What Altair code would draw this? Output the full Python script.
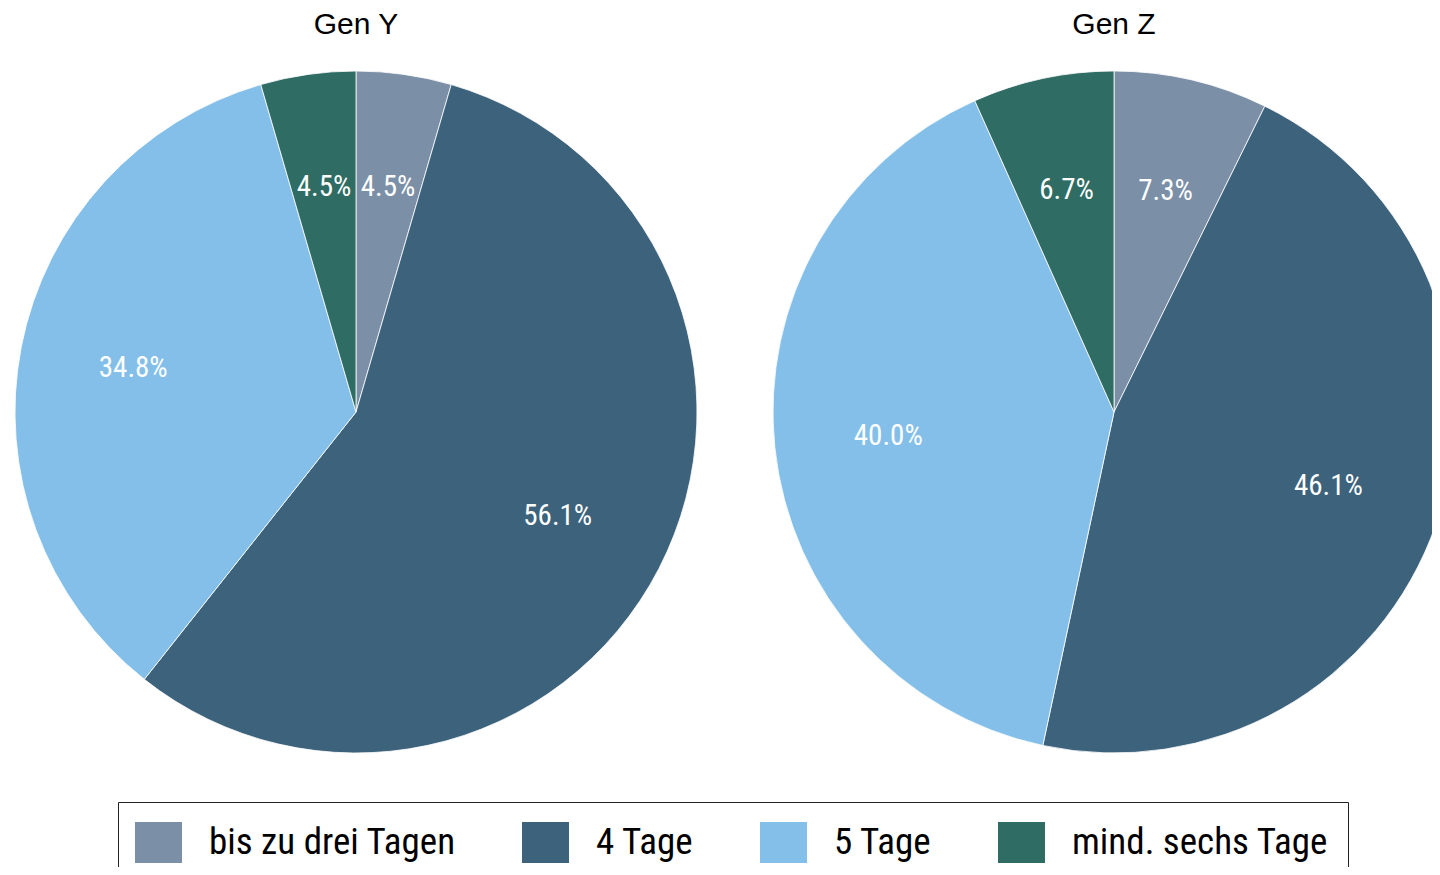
import altair as alt
import pandas as pd

categories = ["bis zu drei Tagen", "4 Tage", "5 Tage", "mind. sechs Tage"]
colors = ["#7b8fa7", "#3d627c", "#83bfe9", "#2e6c64"]
generations = ["Gen Y", "Gen Z"]
gen_y_values = [4.5, 56.1, 34.8, 4.5]
gen_z_values = [7.3, 46.1, 40.0, 6.7]

rows = []
for gen, vals in zip(generations, [gen_y_values, gen_z_values]):
    for i, (c, v) in enumerate(zip(categories, vals)):
        rows.append({"gen": gen, "cat": c, "value": v, "idx": i})
df = pd.DataFrame(rows)

FONT = "Roboto Condensed, Liberation Sans Narrow, sans-serif"
TITLE_FONT = "Liberation Sans, Arial, sans-serif"
R = 341
centers = {"Gen Y": 348, "Gen Z": 1106}
CY = 404

# slightly wider-than-tall rectangle symbol
rect_path = "M-1.146,-1L1.146,-1L1.146,1L-1.146,1Z"

color = alt.Color(
    "cat:N",
    scale=alt.Scale(domain=categories, range=colors),
    sort=categories,
    legend=alt.Legend(
        title=None,
        orient="none",
        legendX=110,
        legendY=794,
        direction="horizontal",
        columns=4,
        columnPadding=66,
        symbolType=rect_path,
        symbolSize=1681,
        symbolStrokeWidth=0,
        labelFont=FONT,
        labelFontSize=37,
        labelColor="black",
        labelOffset=30,
        labelLimit=400,
        strokeColor="#222222",
        padding=20,
    ),
)

layers = []
for gen in generations:
    base = alt.Chart(df).transform_filter(alt.datum.gen == gen)
    cx = centers[gen]
    arc = base.mark_arc(stroke="white", strokeWidth=0.8).encode(
        theta=alt.Theta("value:Q", stack=True),
        order=alt.Order("idx:Q"),
        color=color,
        x=alt.value(cx),
        y=alt.value(CY),
        radius=alt.value(R),
    )
    txt = base.transform_calculate(
        label="format(datum.value, '.1f') + '%'"
    ).mark_text(font=FONT, fontSize=29, color="white").encode(
        theta=alt.Theta("value:Q", stack=True),
        order=alt.Order("idx:Q"),
        text="label:N",
        x=alt.value(cx),
        y=alt.value(CY),
        radius=alt.value(227),
    )
    title = base.transform_filter(alt.datum.idx == 0).mark_text(
        font=TITLE_FONT, fontSize=30, color="black", baseline="alphabetic"
    ).encode(text="gen:N", x=alt.value(cx), y=alt.value(26))
    layers += [arc, txt, title]

chart = alt.layer(*layers).resolve_scale(theta="independent").properties(
    width=1424,
    height=859,
    autosize=alt.AutoSizeParams(type="none"),
    padding=0,
).configure_view(stroke=None)

chart.save("out.html", embed_options={"renderer": "svg", "actions": False})
